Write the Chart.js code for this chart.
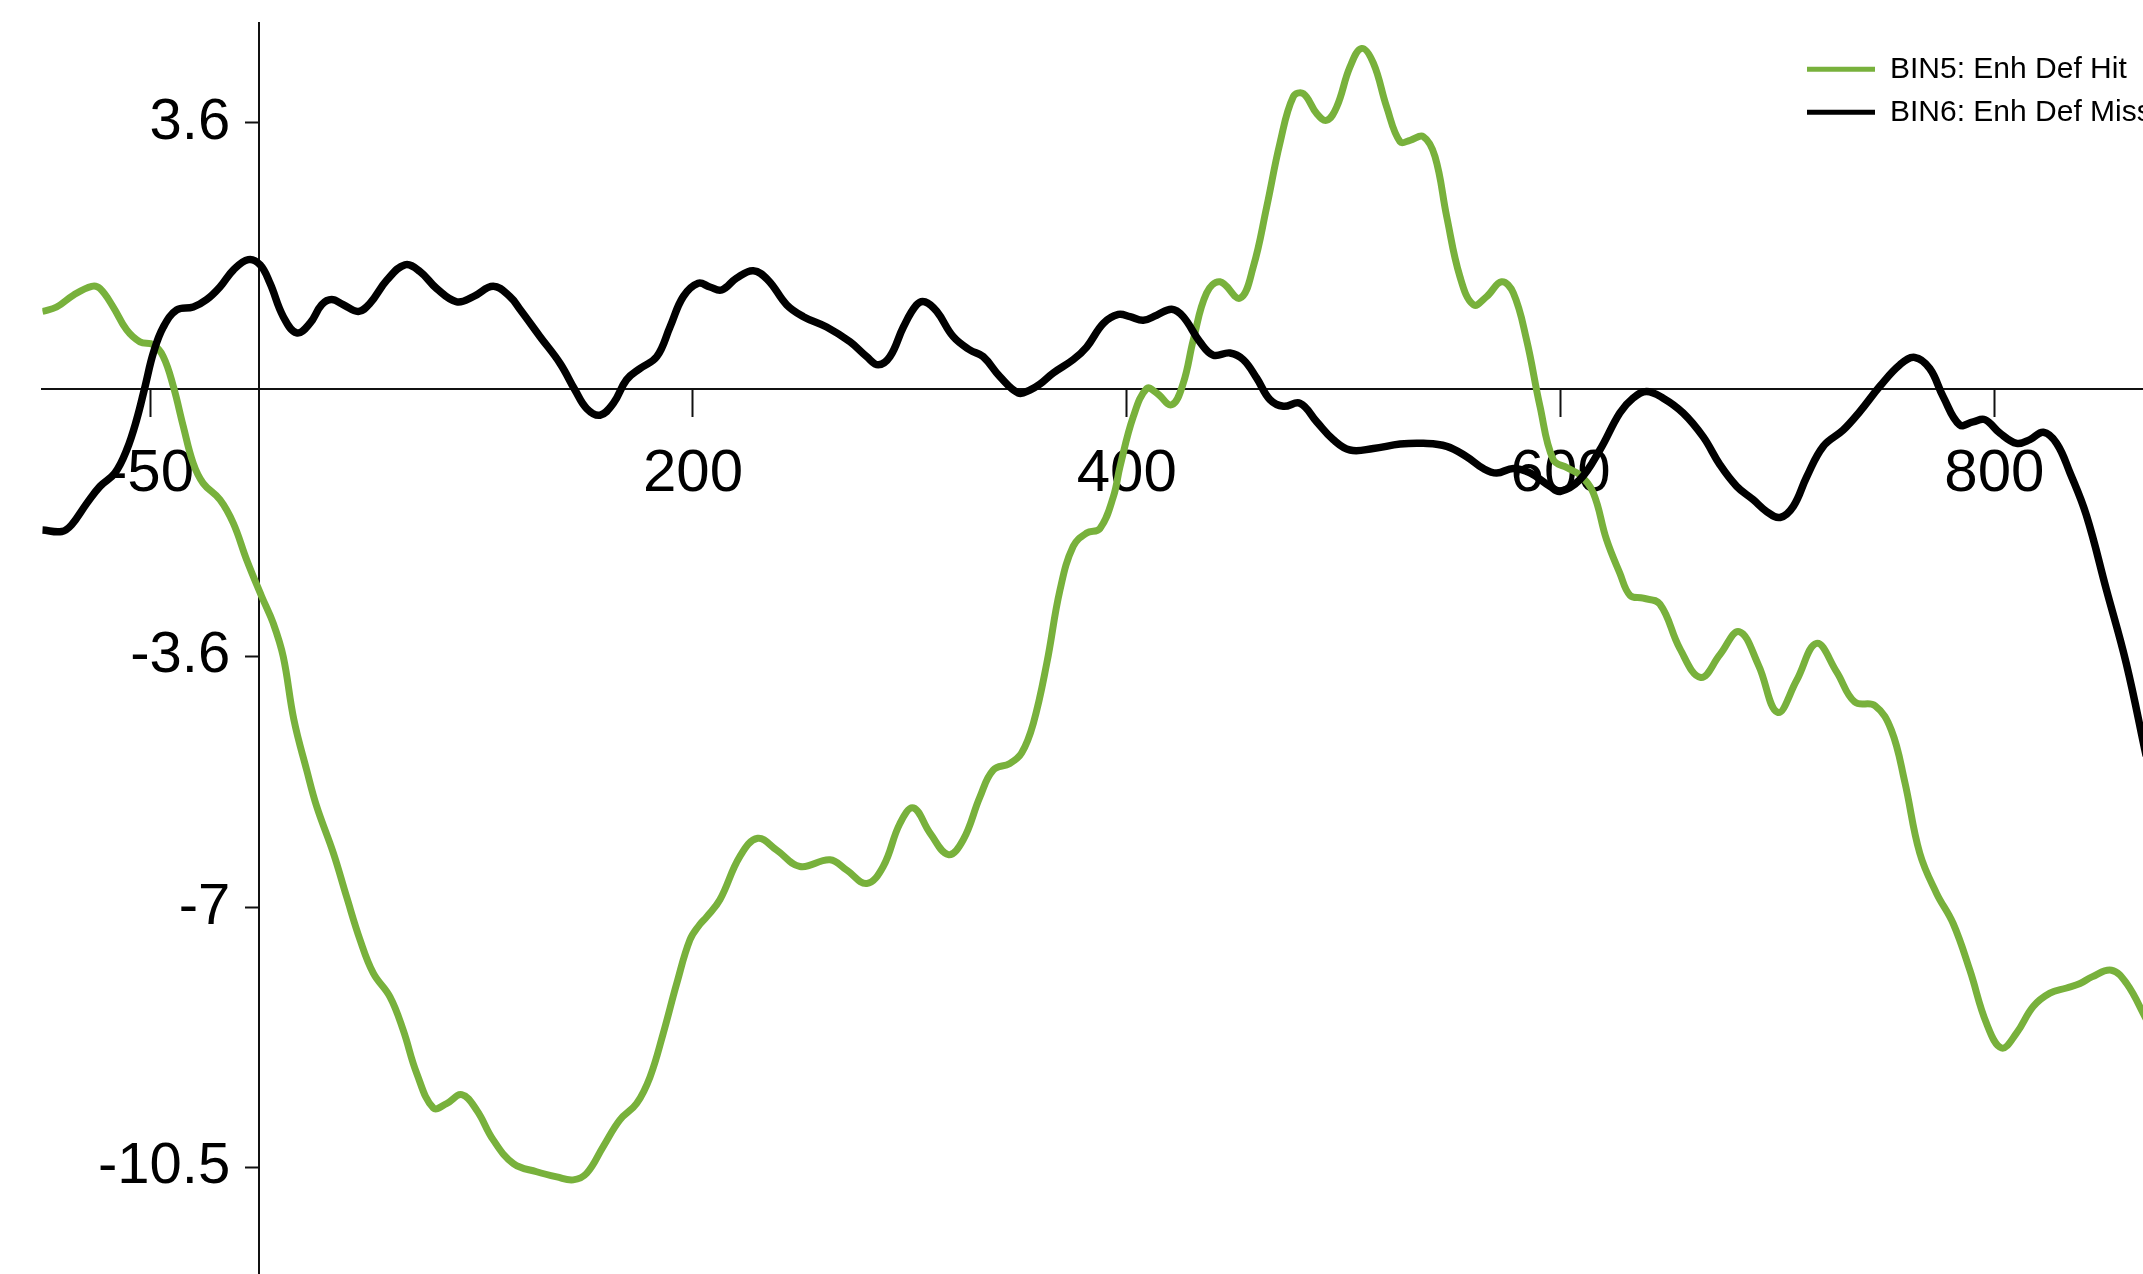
<!DOCTYPE html>
<html>
<head>
<meta charset="utf-8">
<title>ERP waveforms: BIN5 vs BIN6</title>
<script src="https://cdn.jsdelivr.net/npm/chart.js@4/dist/chart.umd.min.js"></script>
<style>
  html, body { margin: 0; padding: 0; background: #ffffff; overflow: hidden; }
  #wrap { width: 2300px; height: 1274px; }
  canvas { display: block; }
</style>
</head>
<body>
<div id="wrap"><canvas id="erp" width="2300" height="1274" style="width:2300px;height:1274px"></canvas></div>
<script>
// Series labels
const seriesLabels = ['BIN5: Enh Def Hit', 'BIN6: Enh Def Miss'];

// BIN5 (Enh Def Hit): latency in ms and amplitude in µV
const bin5Times = [
  -100, -93.4, -85.7, -77.2, -73.4, -67.3, -61.1, -55, -48.8, -44.2,
  -39.6, -35, -30.4, -25.8, -18.1, -11.9, -5.8, 1.2, 6.5, 11.1,
  16, 21.9, 26.5, 34.2, 40.3, 46.5, 52.6, 60.3, 66.4, 72.6,
  80.3, 86.4, 93.4, 100.3, 107.9, 117.2, 127.9, 137.2, 144.8, 151,
  158.6, 166.3, 174, 180.2, 186.3, 192.5, 198.6, 203.2, 206.3, 212.4,
  221.7, 229.8, 238.6, 249.3, 263.2, 270.9, 280.1, 287.7, 295.4, 301.6,
  309.3, 317.7, 324.6, 332.3, 338.4, 346.1, 351.5, 356.9, 363.1, 369.2,
  375.3, 381.5, 387.6, 393.8, 396.9, 403, 409.2, 413.8, 420.7, 426,
  430.7, 436.8, 443, 452.2, 458.3, 464.5, 470.6, 476.8, 481.4, 487.6,
  492.2, 496.8, 502.9, 508.3, 513.7, 519.8, 526, 530.6, 536.7, 542.1,
  547.5, 553.6, 559.8, 565.9, 572.8, 578.2, 584.3, 590.5, 596.6, 603,
  609, 615.1, 621.2, 627.3, 632, 638.1, 645.8, 655, 664.6, 673.5,
  682.3, 691.2, 700, 708.8, 718, 727.2, 735.6, 745, 752.5, 758.7,
  765.6, 773.3, 781, 788.7, 796.4, 803.3, 810.2, 817.9, 825.6, 833.3,
  839.5, 845, 854, 861, 870
];
const bin5Values = [
  1.05, 1.11, 1.27, 1.39, 1.36, 1.11, 0.80, 0.64, 0.60, 0.44,
  0.04, -0.50, -1.00, -1.27, -1.49, -1.81, -2.30, -2.80, -3.16, -3.61,
  -4.46, -5.14, -5.63, -6.26, -6.85, -7.43, -7.88, -8.20, -8.65, -9.23,
  -9.70, -9.64, -9.52, -9.73, -10.13, -10.45, -10.56, -10.63, -10.67, -10.58,
  -10.22, -9.86, -9.64, -9.28, -8.69, -8.02, -7.43, -7.22, -7.12, -6.89,
  -6.30, -6.06, -6.22, -6.44, -6.35, -6.49, -6.67, -6.44, -5.86, -5.65,
  -5.99, -6.28, -6.08, -5.50, -5.14, -5.05, -4.91, -4.51, -3.70, -2.71,
  -2.12, -1.94, -1.88, -1.45, -1.04, -0.37, 0.01, -0.05, -0.21, 0.08,
  0.67, 1.30, 1.45, 1.23, 1.65, 2.46, 3.32, 3.95, 3.99, 3.72,
  3.63, 3.81, 4.35, 4.60, 4.40, 3.81, 3.34, 3.36, 3.41, 3.14,
  2.33, 1.52, 1.14, 1.25, 1.45, 1.30, 0.67, -0.23, -0.95, -1.06,
  -1.16, -1.40, -2.03, -2.48, -2.78, -2.82, -2.90, -3.50, -3.89, -3.58,
  -3.27, -3.72, -4.36, -3.93, -3.43, -3.81, -4.22, -4.27, -4.60, -5.30,
  -6.26, -6.80, -7.21, -7.84, -8.56, -8.89, -8.69, -8.33, -8.15, -8.08,
  -8.02, -7.93, -7.84, -8.02, -8.50
];

// BIN6 (Enh Def Miss): latency in ms and amplitude in µV
const bin6Times = [
  -100, -91, -86.5, -79.5, -73.4, -66.5, -61.1, -56.5, -52.6, -48.8,
  -44.2, -38, -30.4, -24.2, -18.1, -11.9, -5, 0.4, 5, 11.1,
  17.3, 23.4, 28.8, 33.4, 38.8, 45.7, 51.1, 58.8, 67.2, 74.1,
  81.8, 91.1, 98.7, 107.9, 115.6, 120.2, 129.5, 138.7, 145.6, 151,
  157.1, 163.3, 169.4, 175.6, 183.3, 189.4, 195.5, 202.4, 207.8, 213.2,
  220.1, 227.8, 234.7, 243.2, 250.9, 261.6, 272.4, 280.1, 285.4, 290.8,
  297, 303.1, 307, 312.4, 320, 327.7, 333.8, 341.5, 350, 355.4,
  360, 366.1, 375.3, 381.5, 389.2, 396.1, 401.5, 407.6, 413.8, 420.7,
  426, 433.7, 439.9, 447.6, 453.7, 459.9, 466, 472.2, 479.9, 487.6,
  495.2, 502.9, 513.7, 526, 536.7, 547.5, 556.7, 564.4, 570.5, 578.2,
  585.9, 595.1, 599.7, 608.9, 618.1, 627.3, 633.4, 639.6, 647.3, 656.5,
  665.7, 673.5, 681.2, 688.8, 695, 701.2, 707.3, 713.5, 721.1, 730.3,
  738, 747.2, 756.4, 763.3, 770.2, 776.4, 784, 790.2, 795.6, 802.5,
  810.3, 816.4, 822.6, 828.7, 834.9, 842.4, 851.6, 860.8, 870
];
const bin6Values = [
  -1.90, -1.92, -1.83, -1.54, -1.31, -1.13, -0.82, -0.41, 0.04, 0.49,
  0.84, 1.07, 1.11, 1.21, 1.38, 1.61, 1.75, 1.68, 1.43, 0.98,
  0.76, 0.89, 1.14, 1.21, 1.14, 1.05, 1.16, 1.47, 1.68, 1.59,
  1.36, 1.18, 1.25, 1.39, 1.25, 1.08, 0.71, 0.35, -0.01, -0.26,
  -0.35, -0.19, 0.13, 0.28, 0.44, 0.84, 1.25, 1.43, 1.38, 1.34,
  1.50, 1.60, 1.47, 1.14, 0.98, 0.84, 0.64, 0.44, 0.33, 0.44,
  0.84, 1.14, 1.18, 1.05, 0.71, 0.53, 0.44, 0.17, -0.05, -0.01,
  0.07, 0.22, 0.40, 0.57, 0.89, 1.01, 0.98, 0.93, 1.00, 1.08,
  0.98, 0.64, 0.46, 0.49, 0.40, 0.15, -0.14, -0.23, -0.19, -0.44,
  -0.68, -0.82, -0.80, -0.74, -0.73, -0.77, -0.91, -1.07, -1.13, -1.07,
  -1.13, -1.31, -1.38, -1.22, -0.82, -0.32, -0.12, -0.03, -0.12, -0.32,
  -0.64, -1.02, -1.31, -1.49, -1.65, -1.73, -1.58, -1.18, -0.77, -0.55,
  -0.30, 0.04, 0.33, 0.43, 0.28, -0.10, -0.48, -0.44, -0.41, -0.59,
  -0.73, -0.68, -0.58, -0.73, -1.13, -1.70, -2.70, -3.70, -4.95
];

// Axis ticks
const xTickValues = [-50, 200, 400, 600, 800];
const yTickValues = [3.6, -3.6, -7, -10.5];

// Axis ranges (ms, µV)
const xRange = [-100, 870];
const yRange = [-11.94, 4.943];

const toPoints = (times, values) => times.map((t, i) => ({ x: t, y: values[i] }));

const FONT = "'Liberation Sans', Arial, Helvetica, sans-serif";
const INK = '#111111';

// Places the legend box in the upper right corner of the plot
const legendCorner = {
  id: 'legendCorner',
  afterLayout(chart) {
    const lg = chart.legend;
    if (!lg) return;
    const w = lg.width, h = lg.height;
    lg.left = 1794;
    lg.top = 41.3;
    lg.right = lg.left + w;
    lg.bottom = lg.top + h;
  }
};

const zeroPadding = (scale) => {
  scale.paddingTop = 0; scale.paddingBottom = 0;
  scale.paddingLeft = 0; scale.paddingRight = 0;
};

new Chart(document.getElementById('erp'), {
  type: 'line',
  data: {
    datasets: [
      {
        label: seriesLabels[0],
        data: toPoints(bin5Times, bin5Values),
        borderColor: '#78b13c',
        backgroundColor: '#78b13c',
        borderWidth: 7,
        pointRadius: 0,
        pointBorderWidth: 5,
        tension: 0.4,
        order: 1
      },
      {
        label: seriesLabels[1],
        data: toPoints(bin6Times, bin6Values),
        borderColor: '#000000',
        backgroundColor: '#000000',
        borderWidth: 7.5,
        pointRadius: 0,
        pointBorderWidth: 5,
        tension: 0.4,
        order: 0
      }
    ]
  },
  options: {
    responsive: false,
    animation: false,
    events: [],
    layout: {
      autoPadding: false,
      padding: { left: 42.3, top: 23, right: 153.8, bottom: 0 }
    },
    scales: {
      x: {
        type: 'linear',
        min: xRange[0],
        max: xRange[1],
        position: { y: 0 },
        afterBuildTicks: (scale) => { scale.ticks = xTickValues.map(v => ({ value: v })); },
        afterFit: zeroPadding,
        grid: { display: true, drawOnChartArea: false, drawTicks: true, tickLength: 27, tickWidth: 2, tickColor: INK },
        border: { display: true, color: INK, width: 2 },
        ticks: {
          autoSkip: false,
          maxRotation: 0,
          padding: 22,
          color: '#000000',
          font: { family: FONT, size: 60 },
          callback: (v) => String(v)
        }
      },
      y: {
        type: 'linear',
        min: yRange[0],
        max: yRange[1],
        position: { x: 0 },
        afterBuildTicks: (scale) => { scale.ticks = yTickValues.map(v => ({ value: v })); },
        afterFit: zeroPadding,
        grid: { display: true, drawOnChartArea: false, drawTicks: true, tickLength: 13, tickWidth: 2, tickColor: INK },
        border: { display: true, color: INK, width: 2 },
        ticks: {
          autoSkip: false,
          color: '#000000',
          font: { family: FONT, size: 58 },
          // an axis placed at x = 0 sets its labels flush against the line,
          // so an en space keeps them clear of the tick marks
          callback: (v) => String(v) + '\u2002'
        }
      }
    },
    plugins: {
      tooltip: { enabled: false },
      legend: {
        display: true,
        position: 'chartArea',
        align: 'start',
        labels: {
          usePointStyle: true,
          pointStyle: 'line',
          pointStyleWidth: 68,
          padding: 13,
          color: '#000000',
          font: { family: FONT, size: 30 },
          sort: (a, b) => a.datasetIndex - b.datasetIndex
        }
      }
    }
  },
  plugins: [legendCorner]
});
</script>
</body>
</html>
